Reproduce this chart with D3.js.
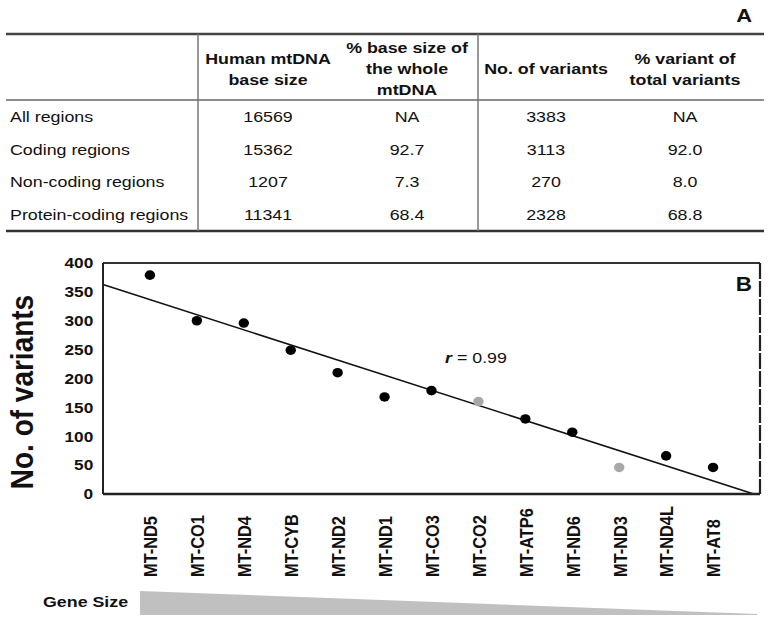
<!DOCTYPE html>
<html>
<head>
<meta charset="utf-8">
<script src="https://cdn.jsdelivr.net/npm/d3@7"></script>
<style>
  body { margin: 0; background: #fff; }
  text { font-family: "Liberation Sans", Arial, sans-serif; fill: #111; }
</style>
</head>
<body>
<div id="figure"></div>
<script>
// panel A table
const tableHeaders = [["Human mtDNA", "base size"], ["% base size of", "the whole", "mtDNA"], ["No. of variants"], ["% variant of", "total variants"]];
const tableRows = ["All regions", "Coding regions", "Non-coding regions", "Protein-coding regions"];
const baseSize = ["16569", "15362", "1207", "11341"];
const pctBase = ["NA", "92.7", "7.3", "68.4"];
const variantCount = ["3383", "3113", "270", "2328"];
const pctVariant = ["NA", "92.0", "8.0", "68.8"];

// panel B scatter
const genes = ["MT-ND5", "MT-CO1", "MT-ND4", "MT-CYB", "MT-ND2", "MT-ND1", "MT-CO3", "MT-CO2", "MT-ATP6", "MT-ND6", "MT-ND3", "MT-ND4L", "MT-AT8"];
const geneVariants = [379, 300, 296, 249, 210, 168, 179, 160, 130, 107, 46, 66, 46];
const grayGenes = ["MT-CO2", "MT-ND3"];
const yTicks = [0, 50, 100, 150, 200, 250, 300, 350, 400];

const width = 769;
const height = 622;
const sx = 1.15; // the figure text is a bit wide

const svg = d3.select("#figure")
  .append("svg")
  .attr("width", width)
  .attr("height", height);

function wideText(g, x, y, str, size, weight, anchor) {
  return g.append("text")
    .attr("transform", `translate(${x},${y}) scale(${sx},1)`)
    .attr("text-anchor", anchor)
    .style("font-size", size + "px")
    .style("font-weight", weight)
    .text(str);
}

// ---------- table ----------
const tbl = svg.append("g");
const colX = [268, 407, 546, 685];
const rowY = [122, 154.5, 187, 220];

tbl.append("line").attr("x1", 6).attr("x2", 764).attr("y1", 34).attr("y2", 34)
  .attr("stroke", "#444").attr("stroke-width", 2.5);
tbl.append("line").attr("x1", 6).attr("x2", 764).attr("y1", 100).attr("y2", 100)
  .attr("stroke", "#666").attr("stroke-width", 1.5);
tbl.append("line").attr("x1", 6).attr("x2", 764).attr("y1", 231).attr("y2", 231)
  .attr("stroke", "#333").attr("stroke-width", 2.5);
[198, 478].forEach(x => {
  tbl.append("line").attr("x1", x).attr("x2", x).attr("y1", 34).attr("y2", 231)
    .attr("stroke", "#777").attr("stroke-width", 1.5);
});

wideText(tbl, 752, 22, "A", 19, "bold", "end");

tableHeaders.forEach((lines, i) => {
  lines.forEach((ln, j) => {
    const y = 74 - (lines.length - 1) * 10.5 + j * 21;
    wideText(tbl, colX[i], y, ln, 15.5, "bold", "middle");
  });
});

const columns = [baseSize, pctBase, variantCount, pctVariant];
tableRows.forEach((r, i) => {
  wideText(tbl, 10, rowY[i], r, 15.5, "normal", "start");
  columns.forEach((col, c) => {
    wideText(tbl, colX[c], rowY[i], col[i], 15.5, "normal", "middle");
  });
});

// ---------- scatter ----------
const plotLeft = 103, plotRight = 760, plotTop = 263, plotBottom = 494;

const x = d3.scaleLinear().domain([0, genes.length + 1]).range([plotLeft, plotRight]);
const y = d3.scaleLinear().domain([0, 400]).range([plotBottom, plotTop]);

const chart = svg.append("g");

// y axis labels
const yAxis = chart.append("g")
  .attr("transform", `translate(${plotLeft},0)`)
  .call(d3.axisLeft(y).tickValues(yTicks).tickSize(0).tickPadding(8.5));
yAxis.select(".domain").remove();
yAxis.selectAll("text")
  .attr("transform", `scale(${sx},1)`)
  .style("font-size", "15px")
  .style("font-weight", "bold")
  .style("font-family", "'Liberation Sans', Arial, sans-serif")
  .attr("fill", "#111");

// x axis labels, rotated
const xAxis = chart.append("g")
  .attr("transform", `translate(0,${plotBottom})`)
  .call(d3.axisBottom(x).tickValues(genes.map((g, i) => i + 1))
    .tickFormat((d) => genes[d - 1]).tickSize(0));
xAxis.select(".domain").remove();
xAxis.selectAll("text")
  .attr("x", 0).attr("y", 0).attr("dy", "0.36em")
  .attr("transform", `translate(0,83) scale(${sx},1) rotate(-90)`)
  .attr("text-anchor", "start")
  .style("font-size", "16.4px")
  .style("font-weight", "bold")
  .style("font-family", "'Liberation Sans', Arial, sans-serif")
  .attr("fill", "#111");

// y title
chart.append("text")
  .attr("transform", `translate(33,392) scale(${sx},1) rotate(-90)`)
  .attr("text-anchor", "middle")
  .style("font-size", "28px")
  .style("font-weight", "bold")
  .text("No. of variants");

// least squares fit of variants on gene rank
const ranks = genes.map((g, i) => i + 1);
const mt = d3.mean(ranks), mv = d3.mean(geneVariants);
const slope = d3.sum(ranks, (t, i) => (t - mt) * (geneVariants[i] - mv)) / d3.sum(ranks, t => (t - mt) * (t - mt));
const intercept = mv - slope * mt;
const tEnd = -intercept / slope;

chart.append("line")
  .attr("x1", x(0)).attr("y1", y(intercept))
  .attr("x2", x(tEnd)).attr("y2", y(0))
  .attr("stroke", "#111").attr("stroke-width", 1.6);

// box
chart.append("line").attr("x1", plotLeft).attr("x2", plotRight).attr("y1", plotTop).attr("y2", plotTop)
  .attr("stroke", "#333").attr("stroke-width", 2);
chart.append("line").attr("x1", plotLeft).attr("x2", plotRight).attr("y1", plotBottom).attr("y2", plotBottom)
  .attr("stroke", "#222").attr("stroke-width", 2.5);
chart.append("line").attr("x1", plotLeft).attr("x2", plotLeft).attr("y1", plotTop).attr("y2", plotBottom)
  .attr("stroke", "#222").attr("stroke-width", 2);
chart.append("line").attr("x1", plotRight).attr("x2", plotRight).attr("y1", plotTop).attr("y2", plotBottom)
  .attr("stroke", "#222").attr("stroke-width", 2.2).attr("stroke-dasharray", "16,2");

chart.selectAll("ellipse.pt")
  .data(genes)
  .enter()
  .append("ellipse")
  .attr("class", "pt")
  .attr("cx", (d, i) => x(i + 1))
  .attr("cy", (d, i) => y(geneVariants[i]))
  .attr("rx", 5.2)
  .attr("ry", 4.8)
  .attr("fill", d => grayGenes.includes(d) ? "#a8a8a8" : "#000");

// r label
const rLab = chart.append("text")
  .attr("transform", `translate(445,363) scale(${sx},1)`)
  .style("font-size", "15.5px");
rLab.append("tspan").style("font-style", "italic").style("font-weight", "bold").text("r");
rLab.append("tspan").text(" = 0.99");

wideText(chart, 752, 291, "B", 19.5, "bold", "end");

// gene size wedge
chart.append("path")
  .attr("d", d3.line()([[140, 591], [757, 614], [757, 615], [140, 615]]) + "Z")
  .attr("fill", "#c0c0c0");
wideText(chart, 43, 607, "Gene Size", 15.5, "bold", "start");
</script>
</body>
</html>
